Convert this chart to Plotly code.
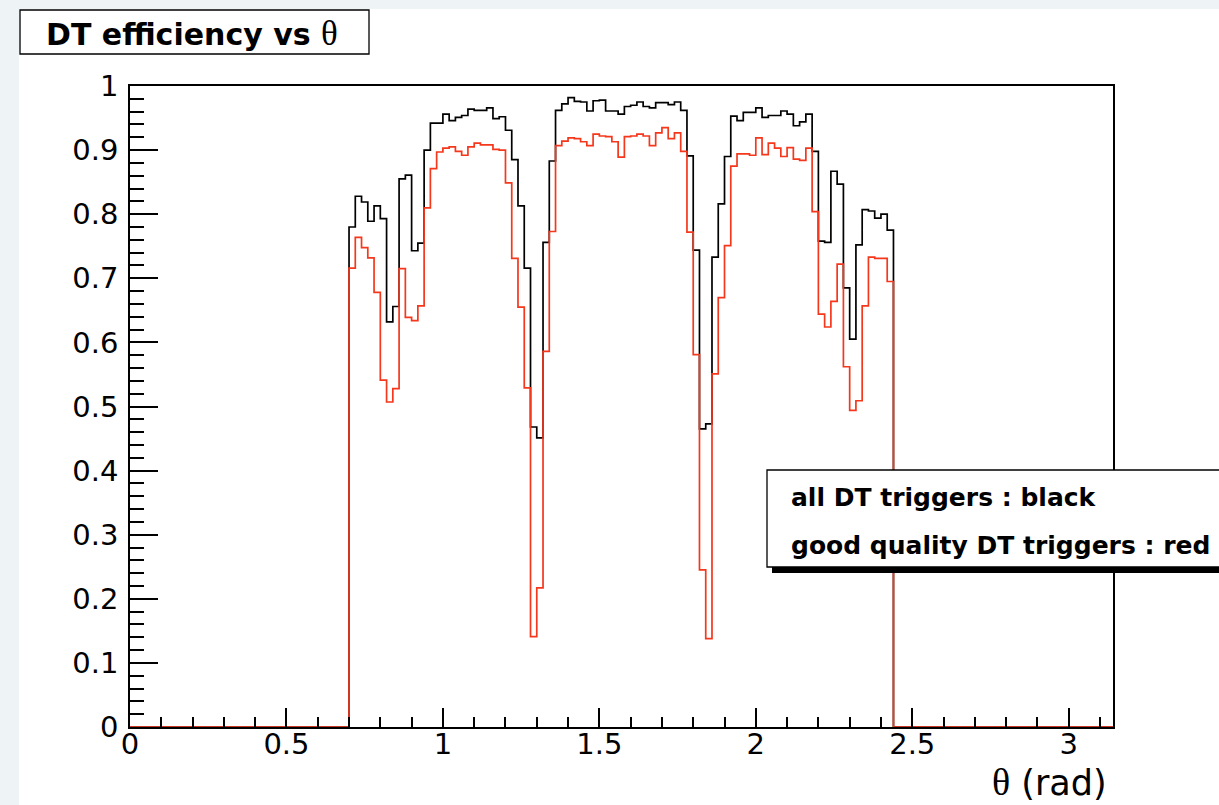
import math
import plotly.graph_objects as go

# ---------------- data ----------------
theta_lo = 0.70          # first filled bin lower edge (rad)
bin_width = 0.02         # histogram bin width (rad)
theta_max = math.pi      # axis / histogram upper edge

eff_all = [
    0.780, 0.828, 0.819, 0.789, 0.813, 0.793, 0.632, 0.656, 0.855, 0.861,
    0.743, 0.755, 0.900, 0.942, 0.942, 0.956, 0.946, 0.951, 0.954, 0.964,
    0.962, 0.962, 0.966, 0.949, 0.952, 0.931, 0.885, 0.813, 0.716, 0.468,
    0.451, 0.756, 0.883, 0.962, 0.972, 0.982, 0.976, 0.975, 0.961, 0.977,
    0.978, 0.961, 0.961, 0.956, 0.968, 0.970, 0.975, 0.968, 0.966, 0.974,
    0.974, 0.971, 0.975, 0.962, 0.891, 0.744, 0.465, 0.473, 0.733, 0.816,
    0.890, 0.953, 0.946, 0.959, 0.959, 0.966, 0.951, 0.954, 0.954, 0.961,
    0.956, 0.938, 0.944, 0.956, 0.898, 0.758, 0.756, 0.867, 0.847, 0.685,
    0.605, 0.752, 0.807, 0.805, 0.794, 0.800, 0.775,
]

eff_good = [
    0.716, 0.764, 0.748, 0.732, 0.678, 0.541, 0.507, 0.528, 0.715, 0.639,
    0.634, 0.657, 0.810, 0.871, 0.897, 0.903, 0.905, 0.898, 0.892, 0.905,
    0.911, 0.908, 0.908, 0.901, 0.900, 0.849, 0.731, 0.655, 0.529, 0.141,
    0.217, 0.586, 0.773, 0.907, 0.914, 0.919, 0.918, 0.913, 0.907, 0.925,
    0.922, 0.921, 0.913, 0.889, 0.921, 0.922, 0.925, 0.922, 0.907, 0.927,
    0.935, 0.918, 0.927, 0.898, 0.772, 0.581, 0.245, 0.138, 0.551, 0.670,
    0.751, 0.875, 0.894, 0.894, 0.892, 0.919, 0.893, 0.911, 0.903, 0.890,
    0.904, 0.886, 0.884, 0.903, 0.804, 0.644, 0.624, 0.664, 0.722, 0.562,
    0.494, 0.509, 0.657, 0.733, 0.731, 0.731, 0.695,
]

x_ticks = [0, 0.5, 1, 1.5, 2, 2.5, 3]
y_ticks = [0, 0.1, 0.2, 0.3, 0.4, 0.5, 0.6, 0.7, 0.8, 0.9, 1.0]

title_text = "DT efficiency vs "
legend_lines = ["all DT triggers : black", "good quality DT triggers : red"]


def step_xy(values):
    n = len(values)
    xs = [0.0] + [theta_lo + i * bin_width for i in range(n + 1)] + [theta_max]
    ys = [0.0] + list(values) + [0.0, 0.0]
    return xs, ys


W, H = 1219, 805
L, R, T, B = 130, 1113, 86, 727
pw, ph = R - L, B - T


def px(xp):
    return (xp - L) / pw


def py(yp):
    return (B - yp) / ph


FONT = "DejaVu Sans, Liberation Sans, Arial, sans-serif"


def serif(size):
    return "'font-family:\"Liberation Serif\", \"DejaVu Serif\", serif; font-size:%dpx'" % size


fig = go.Figure()
xb, yb = step_xy(eff_all)
fig.add_trace(go.Scatter(x=xb, y=yb, mode="lines", line=dict(color="black", width=1.7, shape="hv"),
                         hoverinfo="skip", showlegend=False))
xr, yr = step_xy(eff_good)
fig.add_trace(go.Scatter(x=xr, y=yr, mode="lines", line=dict(color="#f5371c", width=1.7, shape="hv"),
                         hoverinfo="skip", showlegend=False))

axis_common = dict(showgrid=False, zeroline=False, showline=True, mirror=True,
                   linecolor="black", linewidth=1.5, ticks="inside", tickcolor="black",
                   tickwidth=1.5, automargin=False,
                   tickfont=dict(family=FONT, size=29, color="black"))

fig.update_layout(
    width=W, height=H,
    margin=dict(l=L, r=W - R, t=T, b=H - B, pad=0),
    paper_bgcolor="white", plot_bgcolor="white",
    xaxis=dict(range=[0, theta_max], tickvals=x_ticks, ticktext=[f"{v:g}" for v in x_ticks],
               ticklen=19, ticklabelstandoff=-10,
               minor=dict(dtick=0.1, tick0=0, ticklen=10, ticks="inside", tickcolor="black", tickwidth=1.5),
               **axis_common),
    yaxis=dict(range=[0, 1], tickvals=y_ticks, ticktext=[f"{v:g}" for v in y_ticks],
               ticklen=28, ticklabelstandoff=4,
               minor=dict(dtick=0.02, tick0=0, ticklen=14, ticks="inside", tickcolor="black", tickwidth=1.5),
               **axis_common),
    showlegend=False,
)

shapes = [
    # faint slide background strips
    dict(type="rect", xref="paper", yref="paper", x0=px(0), x1=px(W), y0=py(9), y1=py(0),
         fillcolor="#eef3f6", line=dict(width=0), layer="below"),
    dict(type="rect", xref="paper", yref="paper", x0=px(0), x1=px(19), y0=py(H), y1=py(0),
         fillcolor="#eef3f6", line=dict(width=0), layer="below"),
    # title box
    dict(type="rect", xref="paper", yref="paper", x0=px(20), x1=px(369), y0=py(54), y1=py(10),
         fillcolor="white", line=dict(color="black", width=1.3), layer="above"),
    # legend shadow + box
    dict(type="rect", xref="paper", yref="paper", x0=px(772), x1=px(W + 20), y0=py(573), y1=py(476),
         fillcolor="black", line=dict(width=0), layer="above"),
    dict(type="rect", xref="paper", yref="paper", x0=px(767), x1=px(W + 10), y0=py(567), y1=py(470),
         fillcolor="white", line=dict(color="black", width=1.3), layer="above"),
]
fig.update_layout(shapes=shapes)

annotations = [
    dict(xref="paper", yref="paper", x=px(192), y=py(33), xanchor="center", yanchor="middle",
         text="<b>" + title_text + "</b><span style=" + serif(35) + ">θ</span>",
         showarrow=False, font=dict(family=FONT, size=30, color="black")),
    dict(xref="paper", yref="paper", x=px(789), y=py(498), xanchor="left", yanchor="middle",
         text="<b>" + legend_lines[0] + "</b>", showarrow=False,
         font=dict(family=FONT, size=25, color="black")),
    dict(xref="paper", yref="paper", x=px(789), y=py(545), xanchor="left", yanchor="middle",
         text="<b>" + legend_lines[1] + "</b>", showarrow=False,
         font=dict(family=FONT, size=25, color="black")),
    dict(xref="paper", yref="paper", x=px(1109), y=py(782), xanchor="right", yanchor="middle",
         text="<span style=" + serif(38) + ">θ</span> (rad)",
         showarrow=False, font=dict(family=FONT, size=35, color="black")),
]
fig.update_layout(annotations=annotations)

fig.write_html("out.html")
